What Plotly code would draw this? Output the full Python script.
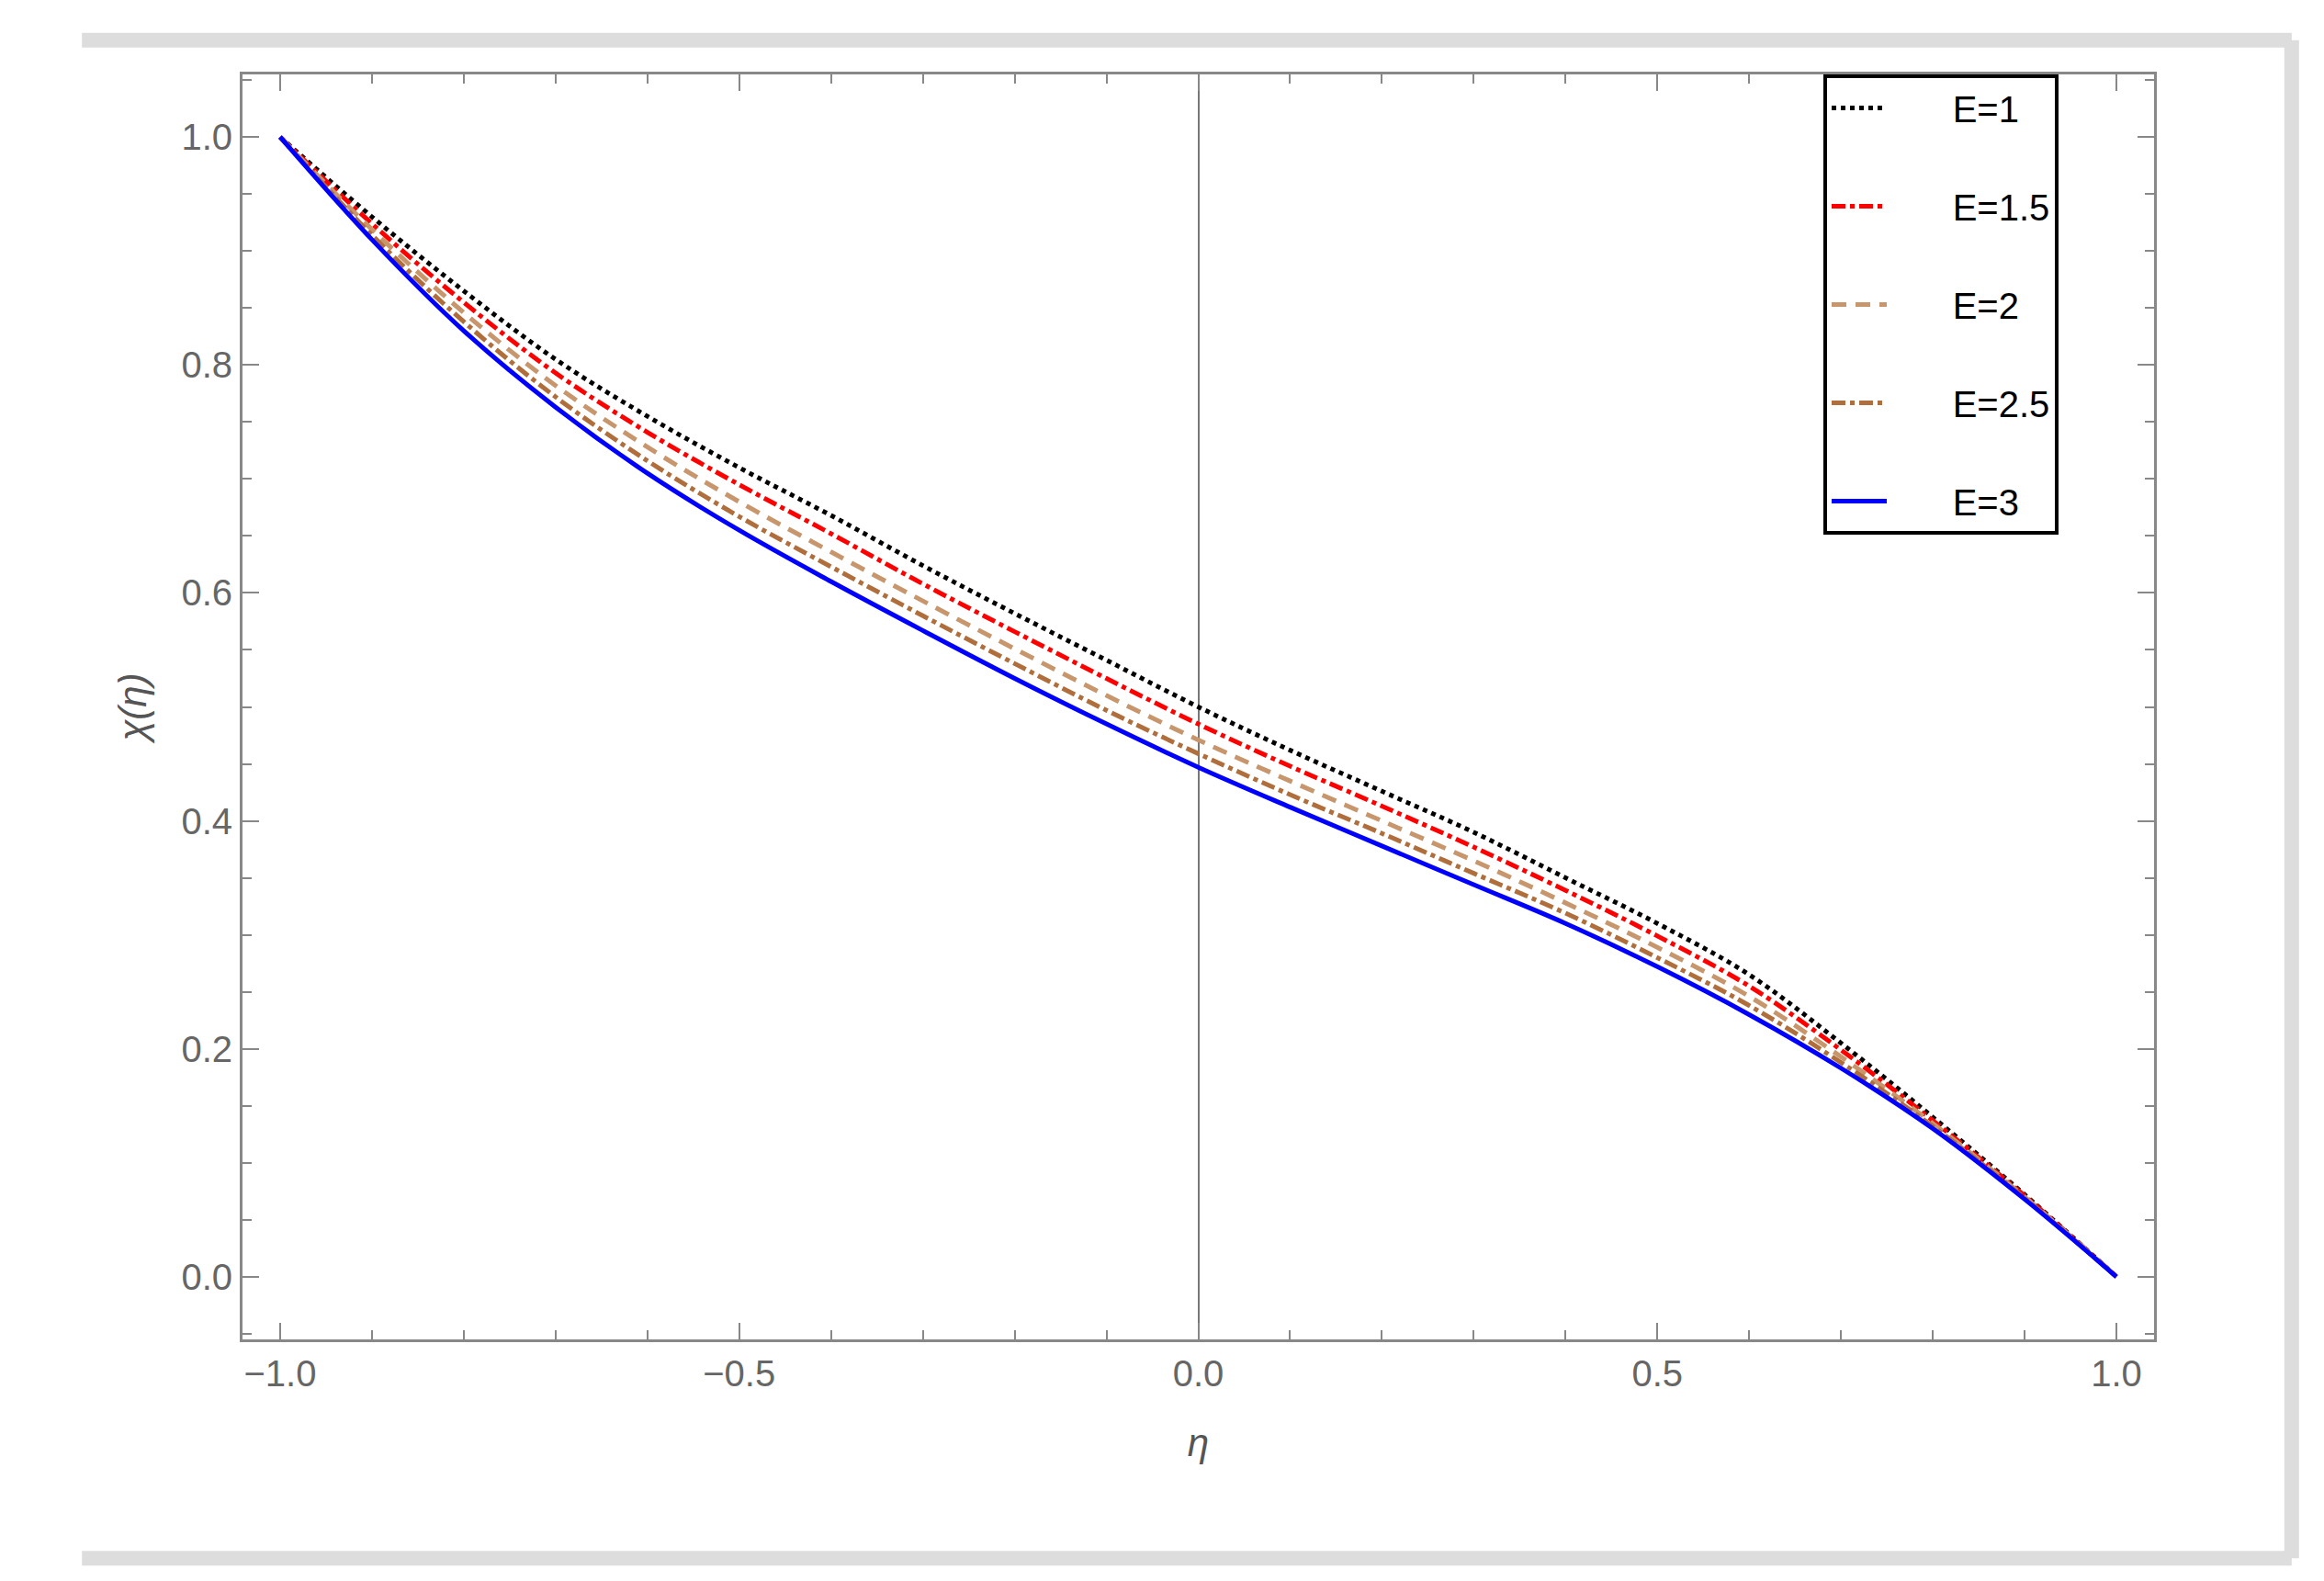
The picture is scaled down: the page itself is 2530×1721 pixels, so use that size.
import plotly.graph_objects as go

eta = [-1.0, -0.9, -0.8, -0.7, -0.6, -0.5, -0.4, -0.3, -0.2, -0.1, 0.0,
       0.1, 0.2, 0.3, 0.4, 0.5, 0.6, 0.7, 0.8, 0.9, 1.0]
chi_E1 = [1.0, 0.93, 0.865, 0.805, 0.755, 0.71, 0.668, 0.624, 0.582, 0.541, 0.50,
          0.462, 0.426, 0.39, 0.35, 0.31, 0.265, 0.205, 0.14, 0.072, 0.0]
chi_E15 = [1.0, 0.924, 0.855, 0.793, 0.741, 0.695, 0.652, 0.608, 0.566, 0.525, 0.485,
           0.448, 0.413, 0.377, 0.339, 0.299, 0.255, 0.199, 0.137, 0.071, 0.0]
chi_E2 = [1.0, 0.919, 0.846, 0.782, 0.728, 0.68, 0.636, 0.593, 0.551, 0.510, 0.471,
          0.435, 0.400, 0.365, 0.328, 0.289, 0.246, 0.193, 0.1345, 0.070, 0.0]
chi_E25 = [1.0, 0.914, 0.838, 0.772, 0.716, 0.667, 0.623, 0.580, 0.538, 0.497, 0.459,
           0.423, 0.389, 0.354, 0.319, 0.280, 0.238, 0.188, 0.132, 0.069, 0.0]
chi_E3 = [1.0, 0.91, 0.83, 0.763, 0.705, 0.655, 0.61, 0.567, 0.525, 0.485, 0.447,
          0.412, 0.378, 0.344, 0.31, 0.272, 0.23, 0.183, 0.13, 0.068, 0.0]

labels = ["E=1", "E=1.5", "E=2", "E=2.5", "E=3"]
series = [chi_E1, chi_E15, chi_E2, chi_E25, chi_E3]
colors = ["black", "#FF0000", "#C8966C", "#B06E3C", "#0000FF"]
dashes = ["dot", "dashdot", "16px,10px", "dashdot", "solid"]

fig = go.Figure()
for lab, ys, c, d in zip(labels, series, colors, dashes):
    fig.add_trace(go.Scatter(x=eta, y=ys, mode="lines", name="      " + lab, legendgroup=lab,
                             line=dict(color=c, dash=d, width=5, shape="spline", smoothing=1.0)))

font = "Liberation Sans, Arial, sans-serif"
axis_common = dict(showline=True, linecolor="#888", linewidth=3, mirror="ticks",
                   ticks="inside", ticklen=18, tickwidth=2, tickcolor="#888",
                   minor=dict(ticks="inside", ticklen=10, tickcolor="#888", tickwidth=2),
                   showgrid=False, tickfont=dict(size=40, color="#666", family=font))
fig.update_xaxes(range=[-1.041, 1.041], tickvals=[-1, -0.5, 0, 0.5, 1],
                 ticktext=["−1.0", "−0.5", "0.0", "0.5", "1.0"],
                 minor_dtick=0.1, zeroline=True, zerolinecolor="#777", zerolinewidth=2,
                 title=dict(text="<i>η</i>", font=dict(size=42, color="#555", family=font), standoff=40),
                 **axis_common)
fig.update_yaxes(range=[-0.055, 1.055], tickvals=[0, 0.2, 0.4, 0.6, 0.8, 1.0],
                 ticktext=["0.0", "0.2", "0.4", "0.6", "0.8", "1.0"],
                 minor_dtick=0.05, zeroline=False,
                 title=dict(text="<i>χ(η)</i>", font=dict(size=42, color="#555", family=font), standoff=25),
                 **axis_common)

border = dict(color="#DDDDDD", width=16)
fig.update_layout(
    width=2530, height=1721,
    margin=dict(l=256, r=193, t=73, b=271),
    paper_bgcolor="white", plot_bgcolor="white",
    legend=dict(x=0.827, y=1.0, xanchor="left", yanchor="top",
                bordercolor="black", borderwidth=4, bgcolor="white",
                font=dict(size=40, color="black", family=font),
                tracegroupgap=52, itemwidth=60),
    shapes=[
        dict(type="line", xref="paper", yref="paper", x0=-0.084, x1=1.072, y0=1.027, y1=1.027, line=border),
        dict(type="line", xref="paper", yref="paper", x0=1.072, x1=1.072, y0=1.027, y1=-0.173, line=border),
        dict(type="line", xref="paper", yref="paper", x0=-0.084, x1=1.072, y0=-0.173, y1=-0.173, line=border),
    ],
)

fig.write_html("out.html")
